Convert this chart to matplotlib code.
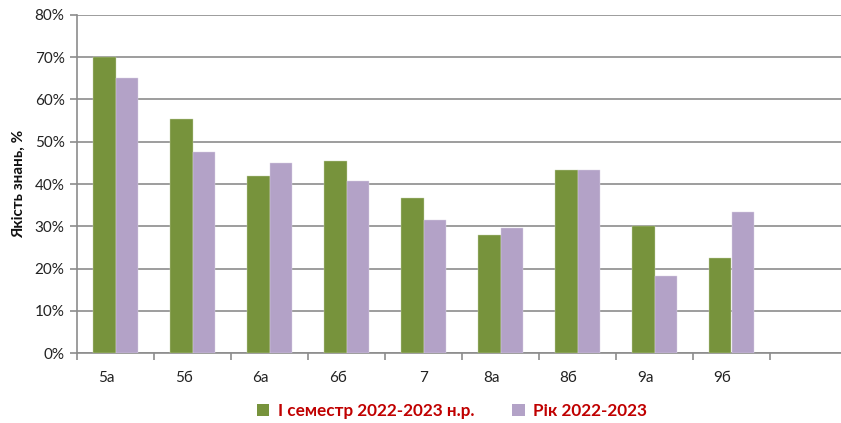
import matplotlib
matplotlib.use("Agg")
import matplotlib.pyplot as plt
import matplotlib.transforms as mtransforms
from matplotlib.patches import Patch
import numpy as np

plt.rcParams['font.family'] = ['Lato', 'DejaVu Sans']

categories = ["5а", "5б", "6а", "6б", "7", "8а", "8б", "9а", "9б"]
semester = [0.700, 0.555, 0.420, 0.454, 0.368, 0.279, 0.433, 0.300, 0.226]
year = [0.650, 0.476, 0.449, 0.407, 0.314, 0.296, 0.433, 0.182, 0.333]
series_names = ["І семестр 2022-2023 н.р.", "Рік 2022-2023"]
yticks = [0, 0.1, 0.2, 0.3, 0.4, 0.5, 0.6, 0.7, 0.8]
n_slots = 10

green = "#77933C"
purple = "#B3A2C7"
grid_c = "#8C8C8C"

fig = plt.figure(figsize=(8.41, 4.23), dpi=100)
ax = fig.add_axes([77/841, 1-353/423, 770/841, 338/423])

x = np.arange(len(categories)) + 0.5
w = 0.286
ax.bar(x - w/2, semester, w, color=green, edgecolor="#C9D6B0", linewidth=0.3, zorder=3)
ax.bar(x + w/2, year, w, color=purple, edgecolor="#DCD3E6", linewidth=0.3, zorder=3)

ax.set_xlim(0, n_slots)
ax.set_ylim(0, 0.8)
ax.set_yticks(yticks)
ax.set_yticklabels([f"{int(round(v*100))}%" for v in yticks], fontsize=11, color="#222222")
ax.yaxis.grid(True, color=grid_c, linewidth=1.2, zorder=0)
ax.set_axisbelow(True)

ax.set_xticks(np.arange(0, n_slots))
ax.set_xticklabels([])
ax.set_xticks(x, minor=True)
ax.set_xticklabels(categories, minor=True, fontsize=11, color="#222222")
ax.tick_params(axis='x', which='minor', length=0, pad=13)
ax.tick_params(axis='x', which='major', length=5, color=grid_c, width=1.2)
ax.tick_params(axis='y', length=5, color=grid_c, width=1.2, pad=4)

for lbl, cat in zip(ax.get_xticklabels(minor=True), categories):
    if len(cat) > 1:
        lbl.set_transform(lbl.get_transform() + mtransforms.ScaledTranslation(-9/100, 0, fig.dpi_scale_trans))

for s in ["top", "right"]:
    ax.spines[s].set_visible(False)
for s in ["left", "bottom"]:
    ax.spines[s].set_color(grid_c)
    ax.spines[s].set_linewidth(1.2)

ax.set_ylabel("Якість знань, %", fontsize=11, fontweight="bold", color="#111111", labelpad=6)

handles = [Patch(facecolor=green, edgecolor="none"), Patch(facecolor=purple, edgecolor="none")]
leg = fig.legend(handles, series_names, loc="center", bbox_to_anchor=(452/841, 1-411/423),
                 ncol=2, frameon=False, handlelength=0.75, handleheight=0.75, handletextpad=0.5,
                 columnspacing=2.2, prop={'family': ['Lato', 'DejaVu Sans'], 'size': 12.3, 'weight': 'bold'})
for t in leg.get_texts():
    t.set_color("#C00000")

fig.savefig("out.png", dpi=100)
